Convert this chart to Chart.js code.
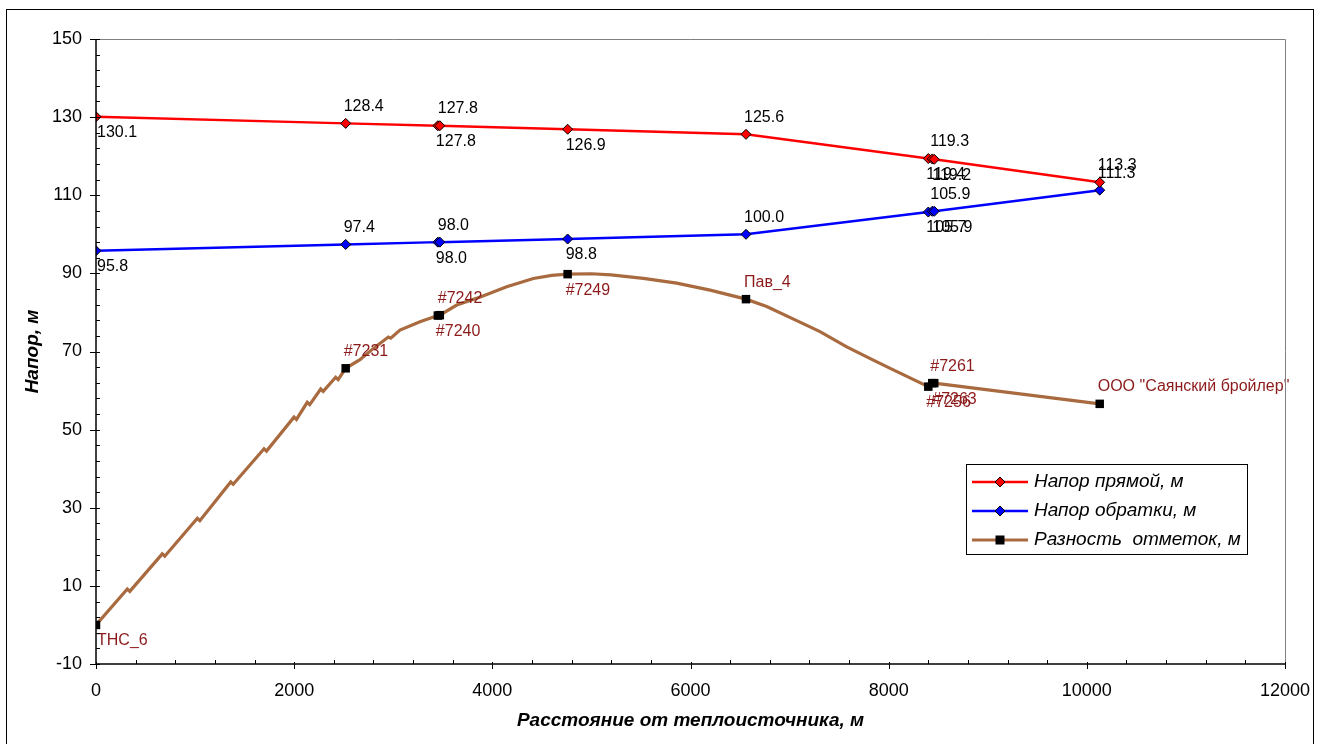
<!DOCTYPE html>
<html>
<head>
<meta charset="utf-8">
<script src="https://cdn.jsdelivr.net/npm/chart.js@4.4.1/dist/chart.umd.min.js"></script>
<style>
    html, body { margin: 0; padding: 0; background: #fff; }
    #wrap { position: relative; width: 1330px; height: 744px; }
</style>
</head>
<body>
<div id="wrap"><canvas id="grafico" width="1330" height="744"></canvas></div>
<script>
/* --------------- datos --------------- */

const DIST = [0, 2520, 3450, 3470, 4760, 6560, 8400, 8440, 8460, 10130];
const NODE_NAMES = ['ТНС_6', '#7231', '#7240', '#7242', '#7249', 'Пав_4', '#7256', '#7261', '#7263', 'ООО "Саянский бройлер"'];
const HEAD_SUPPLY = [130.1, 128.4, 127.8, 127.8, 126.9, 125.6, 119.4, 119.3, 119.2, 113.3];
const HEAD_RETURN = [95.8, 97.4, 98.0, 98.0, 98.8, 100.0, 105.7, 105.9, 105.9, 111.3];
const ELEV_NODES = [0, 65.7, 79.2, 79.3, 89.8, 83.4, 61.0, 61.9, 61.9, 56.6];

// perfil intermedio del terreno (sin marcadores)
const PROFILE_DIST = [316, 341, 669, 694, 1023, 1048, 1360, 1385, 1696, 1721, 1998, 2023, 2132, 2157, 2268, 2293, 2419, 2444,
    2664, 2800, 2950, 2975, 3068, 3270,
    3641, 3886, 4145, 4414, 4600,
    5000, 5198, 5524, 5861, 6198,
    6769, 7072, 7307, 7577, 7845, 8047];
const PROFILE_ELEV = [9.2, 8.6, 18.2, 17.6, 27.3, 26.7, 36.6, 36.0, 45.1, 44.5, 53.2, 52.6, 57.0, 56.4, 60.4, 59.8, 63.4, 62.8,
    67.9, 70.8, 73.7, 73.4, 75.5, 77.6,
    81.9, 84.0, 86.6, 88.7, 89.5,
    89.9, 89.6, 88.7, 87.5, 85.7,
    81.5, 77.9, 75.1, 71.2, 67.8, 65.3];

const Y_MIN = -10, Y_MAX = 150, Y_STEP = 20, Y_MINOR = 4;
const X_MIN = 0, X_MAX = 12000, X_STEP = 2000, X_MINOR = 400;

/* --------------- construccion --------------- */

const FONT = '"Liberation Sans", Arial, sans-serif';
const BROWN = '#A86A3E';
const LABEL_BROWN = '#8C1A1A';

const supplyPts = DIST.map((x, i) => ({ x: x, y: HEAD_SUPPLY[i], lbl: HEAD_SUPPLY[i].toFixed(1), idx: i }));
const returnPts = DIST.map((x, i) => ({ x: x, y: HEAD_RETURN[i], lbl: HEAD_RETURN[i].toFixed(1), idx: i }));
const elevPts = DIST.map((x, i) => ({ x: x, y: ELEV_NODES[i], lbl: NODE_NAMES[i], idx: i }))
    .concat(PROFILE_DIST.map((x, i) => ({ x: x, y: PROFILE_ELEV[i] })))
    .sort((a, b) => a.x - b.x);

const data = {
    datasets: [
        {
            label: 'Напор прямой, м',
            data: supplyPts,
            borderColor: '#FF0000',
            backgroundColor: '#FF0000',
            borderWidth: 2.5,
            pointStyle: 'rectRot',
            pointRadius: 5,
            pointBorderColor: '#000',
            pointBorderWidth: 1,
            labelColor: '#000'
        },
        {
            label: 'Напор обратки, м',
            data: returnPts,
            borderColor: '#0000FF',
            backgroundColor: '#0000FF',
            borderWidth: 2.5,
            pointStyle: 'rectRot',
            pointRadius: 5,
            pointBorderColor: '#000',
            pointBorderWidth: 1,
            labelColor: '#000'
        },
        {
            label: 'Разность  отметок, м',
            data: elevPts,
            borderColor: BROWN,
            backgroundColor: '#000',
            borderWidth: 3.2,
            pointStyle: 'rect',
            pointRadius: (c) => (c.raw && c.raw.lbl ? 6 : 0),
            pointBorderColor: '#000',
            pointBorderWidth: 0,
            labelColor: LABEL_BROWN
        }
    ]
};

/* --------------- plugins --------------- */

const marco = {
    id: 'marco',
    beforeDraw(chart) {
        const ctx = chart.ctx;
        ctx.save();
        ctx.fillStyle = '#fff';
        ctx.fillRect(0, 0, chart.width, chart.height);
        ctx.strokeStyle = '#000';
        ctx.lineWidth = 1;
        ctx.strokeRect(6.5, 9.5, 1307, 760);
        ctx.restore();
    },
    afterDraw(chart) {
        const ctx = chart.ctx;
        const a = chart.chartArea;
        const xs = chart.scales.x, ys = chart.scales.y;
        ctx.save();
        // borde gris superior y derecho
        ctx.strokeStyle = '#808080';
        ctx.lineWidth = 1;
        ctx.beginPath();
        ctx.moveTo(a.left, a.top + 0.5);
        ctx.lineTo(a.right + 0.5, a.top + 0.5);
        ctx.lineTo(a.right + 0.5, a.bottom);
        ctx.stroke();
        // ejes
        ctx.strokeStyle = '#000';
        ctx.lineWidth = 1.5;
        ctx.beginPath();
        ctx.moveTo(a.left, a.top);
        ctx.lineTo(a.left, a.bottom);
        ctx.lineTo(a.right + 1, a.bottom);
        ctx.stroke();
        ctx.lineWidth = 1;
        ctx.beginPath();
        for (let v = Y_MIN; v <= Y_MAX; v += Y_MINOR) {
            const py = Math.round(ys.getPixelForValue(v)) + 0.5;
            const major = (v - Y_MIN) % Y_STEP === 0;
            ctx.moveTo(a.left - (major ? 6 : 0), py);
            ctx.lineTo(a.left + 4, py);
        }
        for (let v = X_MIN; v <= X_MAX; v += X_MINOR) {
            const px = Math.round(xs.getPixelForValue(v)) + 0.5;
            const major = v % X_STEP === 0;
            ctx.moveTo(px, a.bottom - (major ? 2 : 4));
            ctx.lineTo(px, a.bottom + (major ? 5 : 0));
        }
        ctx.stroke();
        ctx.restore();
    }
};

const etiquetas = {
    id: 'etiquetas',
    afterDatasetsDraw(chart) {
        const ctx = chart.ctx;
        ctx.save();
        ctx.font = '16px ' + FONT;
        ctx.textAlign = 'left';
        ctx.textBaseline = 'middle';
        chart.data.datasets.forEach((ds, i) => {
            const meta = chart.getDatasetMeta(i);
            ctx.fillStyle = ds.labelColor;
            meta.data.forEach((el, j) => {
                const raw = ds.data[j];
                if (!raw.lbl) return;
                const below = raw.idx % 2 === 0;
                ctx.fillText(raw.lbl, Math.max(el.x - 2, chart.chartArea.left + 1), el.y + (below ? 16 : -17));
            });
        });
        ctx.restore();
    }
};

const leyenda = {
    id: 'leyenda',
    afterDraw(chart) {
        const ctx = chart.ctx;
        const box = { x: 966.5, y: 464.5, w: 281, h: 90 };
        ctx.save();
        ctx.fillStyle = '#fff';
        ctx.fillRect(box.x, box.y, box.w, box.h);
        ctx.strokeStyle = '#000';
        ctx.lineWidth = 1;
        ctx.strokeRect(box.x, box.y, box.w, box.h);
        chart.data.datasets.forEach((ds, i) => {
            const y = 482 + i * 29;
            ctx.strokeStyle = ds.borderColor;
            ctx.lineWidth = ds.borderWidth;
            ctx.beginPath();
            ctx.moveTo(972, y);
            ctx.lineTo(1028, y);
            ctx.stroke();
            ctx.fillStyle = ds.backgroundColor;
            ctx.strokeStyle = '#000';
            ctx.lineWidth = ds.pointBorderWidth || 0;
            ctx.beginPath();
            if (ds.pointStyle === 'rect') {
                ctx.rect(1000 - 4.5, y - 4.5, 9, 9);
                ctx.fill();
            } else {
                ctx.moveTo(1000, y - 5);
                ctx.lineTo(1005, y);
                ctx.lineTo(1000, y + 5);
                ctx.lineTo(995, y);
                ctx.closePath();
                ctx.fill();
                ctx.stroke();
            }
            ctx.fillStyle = '#000';
            ctx.font = 'italic 19px ' + FONT;
            ctx.textAlign = 'left';
            ctx.textBaseline = 'middle';
            ctx.fillText(ds.label, 1034, y);
        });
        ctx.restore();
    }
};

/* --------------- configuracion del grafico --------------- */

const config = {
    type: 'line',
    data: data,
    options: {
        responsive: false,
        animation: false,
        devicePixelRatio: 1,
        layout: { padding: { left: 0, top: 39, right: 45, bottom: 0 } },
        elements: { line: { tension: 0 } },
        plugins: {
            legend: { display: false },
            tooltip: { enabled: false }
        },
        scales: {
            x: {
                type: 'linear',
                min: X_MIN,
                max: X_MAX,
                grid: { display: false, drawTicks: false },
                border: { display: false },
                ticks: {
                    stepSize: X_STEP,
                    padding: 16,
                    color: '#000',
                    font: { family: FONT, size: 18 },
                    maxRotation: 0,
                    callback: (v) => String(v)
                },
                title: {
                    display: true,
                    text: 'Расстояние от теплоисточника, м',
                    color: '#000',
                    font: { family: FONT, size: 19, style: 'italic', weight: 'bold' },
                    padding: { top: 0, bottom: 12 }
                },
                afterFit: (s) => { s.height = 80; }
            },
            y: {
                min: Y_MIN,
                max: Y_MAX,
                grid: { display: false, drawTicks: false },
                border: { display: false },
                ticks: {
                    stepSize: Y_STEP,
                    padding: 14,
                    color: '#000',
                    font: { family: FONT, size: 18 }
                },
                title: {
                    display: true,
                    text: 'Напор, м',
                    color: '#000',
                    font: { family: FONT, size: 19, style: 'italic', weight: 'bold' },
                    padding: { top: 21, bottom: 0 }
                },
                afterFit: (s) => { s.width = 96; }
            }
        }
    },
    plugins: [marco, etiquetas, leyenda]
};

document.addEventListener('DOMContentLoaded', () => {
    new Chart(document.getElementById('grafico'), config);
});
</script>
</body>
</html>
